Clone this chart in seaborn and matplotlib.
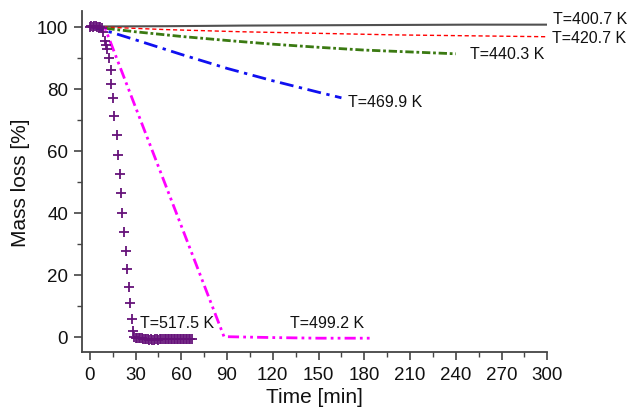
import numpy as np
import pandas as pd
import matplotlib
matplotlib.use("Agg")
import matplotlib.pyplot as plt
import seaborn as sns
from matplotlib.ticker import MultipleLocator

# ---- data ----
t_4007 = [0, 50, 100, 150, 200, 250, 300]
m_4007 = [100.0, 100.1, 100.3, 100.4, 100.5, 100.6, 100.6]

t_4207 = [0, 50, 100, 150, 200, 250, 300]
m_4207 = [100.0, 99.0, 98.3, 97.8, 97.3, 97.0, 96.7]

t_4403 = [0, 30, 60, 90, 120, 150, 180, 210, 240]
m_4403 = [100.0, 98.3, 96.8, 95.5, 94.3, 93.3, 92.4, 91.8, 91.2]

t_4699 = [0, 15, 30, 60, 90, 120, 150, 165]
m_4699 = [100.0, 98.0, 95.7, 91.0, 86.5, 82.5, 78.8, 77.0]

t_4992 = [0, 10, 88, 120, 150, 185]
m_4992 = [100.0, 99.5, 0.0, -0.3, -0.5, -0.5]

t_5175 = [0, 1, 2, 3, 4, 5, 6, 7, 8, 8.7, 9.8, 10.8, 11.6, 12.5, 13.6, 14.2, 15.3,
          16.2, 17.9, 18.8, 19.7, 20.6, 21.2, 22.3, 23.6, 24.5, 25.6, 26.5, 27.4,
          28.5, 29.3, 30, 31, 32, 33, 34, 35, 36, 37, 38, 39, 40, 41, 42, 43, 44,
          45, 46, 47, 48, 49, 50, 51, 52, 53, 54, 55, 56, 57, 58, 59, 60, 61, 62,
          63, 64, 65, 66, 67]
m_5175 = [100.0, 100.2, 99.9, 100.1, 100.3, 99.8, 100.0, 99.9, 99.5, 98.3, 95.4,
          94.0, 92.9, 89.9, 86.1, 81.6, 76.8, 71.0, 65.0, 58.7, 52.6, 46.4, 39.9,
          33.8, 27.6, 21.7, 15.9, 11.0, 5.8, 1.8, -0.2, -0.3, -0.4, -0.5, -0.6,
          -0.5, -0.7, -0.8, -0.7, -0.9, -1.0, -0.9, -1.1, -1.0, -0.9, -0.8, -1.0,
          -0.9, -0.8, -0.9, -0.8, -0.9, -0.8, -0.7, -0.9, -0.8, -0.8, -0.9, -0.7,
          -0.8, -0.9, -0.8, -0.7, -0.8, -0.9, -0.8, -0.7, -0.8, -0.8]

labels = ["T=400.7 K", "T=420.7 K", "T=440.3 K", "T=469.9 K", "T=499.2 K", "T=517.5 K"]
label_t = [304, 303, 249, 169, 131, 33]
label_m = [102.6, 96.6, 91.2, 75.8, 4.6, 4.6]

# ---- style ----
sns.set_theme(style="ticks")
plt.rcParams["font.family"] = ["Liberation Sans", "DejaVu Sans"]

fig = plt.figure(figsize=(6.27, 4.14), dpi=100)
ax = fig.add_axes([0.131, 0.147, 0.742, 0.824])

series = [
    (t_4007, m_4007, dict(color="#505050", lw=1.5, ls="-")),
    (t_4207, m_4207, dict(color="#ff0000", lw=1.0, ls=(0, (3, 2)))),
    (t_4403, m_4403, dict(color="#3b7a12", lw=2.0, ls=(0, (3, 1.0, 1, 1.0)))),
    (t_4699, m_4699, dict(color="#1010f0", lw=2.0, ls=(0, (5, 2, 1.2, 2)))),
    (t_4992, m_4992, dict(color="#ff00ff", lw=2.0, ls=(0, (4, 1.5, 1, 1.5, 1, 1.5)))),
]
for t, m, kw in series:
    df = pd.DataFrame({"t": t, "m": m})
    sns.lineplot(data=df, x="t", y="m", ax=ax, sort=False, estimator=None, **kw)

df517 = pd.DataFrame({"t": t_5175, "m": m_5175})
sns.scatterplot(data=df517, x="t", y="m", ax=ax, marker="+", s=55,
                color="#66127a", linewidth=1.3, zorder=5)

for lab, tx, my in zip(labels, label_t, label_m):
    ax.text(tx, my, lab, fontsize=11.5, color="#111111", va="center", ha="left",
            clip_on=False)

ax.set_xlim(-5, 300)
ax.set_ylim(-5, 105)
ax.xaxis.set_major_locator(MultipleLocator(30))
ax.xaxis.set_minor_locator(MultipleLocator(15))
ax.yaxis.set_major_locator(MultipleLocator(20))
ax.yaxis.set_minor_locator(MultipleLocator(10))
ax.set_xlabel("Time [min]", fontsize=15, color="#111111", labelpad=3)
ax.set_ylabel("Mass loss [%]", fontsize=15, color="#111111", labelpad=5)

for side in ["top", "right"]:
    ax.spines[side].set_visible(False)
for side in ["left", "bottom"]:
    ax.spines[side].set_color("#444444")
    ax.spines[side].set_linewidth(1.3)
ax.tick_params(axis="both", which="major", direction="out", length=6, width=1.2,
               color="#444444", labelsize=13.5, labelcolor="#111111", pad=4)
ax.tick_params(axis="both", which="minor", direction="out", length=3.5, width=1.0,
               color="#444444")

fig.savefig("out.png", dpi=100)
